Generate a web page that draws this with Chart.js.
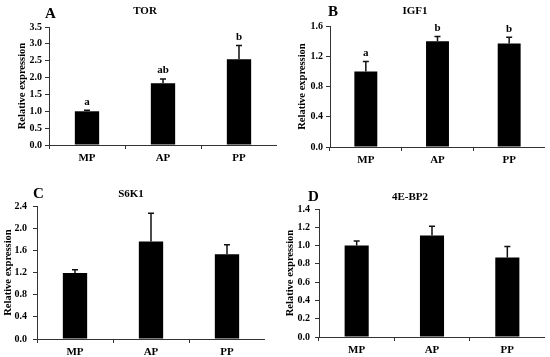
<!DOCTYPE html>
<html>
<head>
<meta charset="utf-8">
<script src="https://cdn.jsdelivr.net/npm/chart.js@4"></script>
<style>
  html, body { margin: 0; padding: 0; background: #fff; }
  #wrap { position: relative; width: 550px; height: 357px; overflow: hidden; }
  canvas { position: absolute; }
</style>
</head>
<body>
<div id="wrap">
  <canvas id="chartA" width="277" height="167" style="left:0;top:0"></canvas>
  <canvas id="chartB" width="265" height="169" style="left:280px;top:0"></canvas>
  <canvas id="chartC" width="265" height="177" style="left:0;top:180px"></canvas>
  <canvas id="chartD" width="265" height="175" style="left:280px;top:180px"></canvas>
</div>
<script>
// data
const categories = ['MP', 'AP', 'PP'];

const torMean = [1.00, 1.83, 2.54];
const torErr  = [0.03, 0.13, 0.41];
const torSig  = ['a', 'ab', 'b'];

const igf1Mean = [1.00, 1.40, 1.37];
const igf1Err  = [0.13, 0.06, 0.08];
const igf1Sig  = ['a', 'b', 'b'];

const s6k1Mean = [1.19, 1.76, 1.53];
const s6k1Err  = [0.06, 0.51, 0.17];

const ebp2Mean = [1.00, 1.11, 0.87];
const ebp2Err  = [0.05, 0.10, 0.12];

const SERIF = "'Liberation Serif', 'Times New Roman', serif";
const AXIS_COLOR = '#333';

// error bars + significance letters
const errorBarPlugin = {
  id: 'errorBars',
  afterDatasetsDraw(chart, args, opts) {
    const { ctx } = chart;
    const y = chart.scales.y;
    const ds = chart.data.datasets[0];
    const meta = chart.getDatasetMeta(0);
    ctx.save();
    ctx.strokeStyle = '#111';
    ctx.lineWidth = 1.5;
    ctx.fillStyle = '#000';
    ctx.font = 'bold 11px ' + SERIF;
    ctx.textAlign = 'center';
    ctx.textBaseline = 'bottom';
    meta.data.forEach((bar, i) => {
      const top = y.getPixelForValue(ds.data[i] + opts.err[i]);
      ctx.beginPath();
      ctx.moveTo(bar.x, bar.y);
      ctx.lineTo(bar.x, top);
      ctx.moveTo(bar.x - 3, top);
      ctx.lineTo(bar.x + 3, top);
      ctx.stroke();
      if (opts.sig) ctx.fillText(opts.sig[i], bar.x, top - 3);
    });
    ctx.restore();
  }
};

// panel letter and gene name
const panelTextPlugin = {
  id: 'panelText',
  afterDraw(chart, args, opts) {
    const { ctx } = chart;
    ctx.save();
    ctx.fillStyle = '#000';
    ctx.textBaseline = 'alphabetic';
    ctx.font = 'bold 15px ' + SERIF;
    ctx.textAlign = 'left';
    ctx.fillText(opts.letter, opts.letterX, opts.letterY);
    ctx.font = 'bold 11px ' + SERIF;
    ctx.textAlign = 'center';
    ctx.fillText(opts.title, opts.titleX, opts.titleY);
    ctx.restore();
  }
};

function makeChart(id, mean, err, sig, cfg) {
  const ctx = document.getElementById(id).getContext('2d');
  return new Chart(ctx, {
    type: 'bar',
    data: {
      labels: categories,
      datasets: [{
        data: mean,
        backgroundColor: '#000',
        borderWidth: 0,
        barPercentage: 0.32,
        categoryPercentage: 1
      }]
    },
    plugins: [errorBarPlugin, panelTextPlugin],
    options: {
      responsive: false,
      animation: false,
      layout: { padding: { top: cfg.padTop, left: 0, right: 0, bottom: 0 } },
      plugins: {
        legend: { display: false },
        tooltip: { enabled: false },
        errorBars: { err: err, sig: sig },
        panelText: cfg.text
      },
      scales: {
        x: {
          offset: true,
          grid: { display: true, drawOnChartArea: false, offset: true, tickLength: 4, color: AXIS_COLOR },
          border: { display: true, color: AXIS_COLOR, width: 1 },
          ticks: { color: '#000', padding: 3, font: { family: SERIF, weight: 'bold', size: 11 } },
          afterFit: s => { s.height = cfg.xHeight; }
        },
        y: {
          min: 0,
          max: cfg.yMax,
          grid: { display: true, drawOnChartArea: false, tickLength: 4, color: AXIS_COLOR },
          border: { display: true, color: AXIS_COLOR, width: 1 },
          ticks: {
            stepSize: cfg.step,
            color: '#000',
            padding: cfg.tickPad,
            font: { family: SERIF, weight: 'bold', size: 10 },
            callback: v => v.toFixed(1)
          },
          title: {
            display: true,
            text: 'Relative expression',
            color: '#000',
            padding: { top: cfg.titlePad, bottom: 0 },
            font: { family: SERIF, weight: 'bold', size: 10.5 }
          },
          afterFit: s => { s.width = cfg.yWidth; }
        }
      }
    }
  });
}

makeChart('chartA', torMean, torErr, torSig, {
  yMax: 3.5, step: 0.5, yWidth: 49, padTop: 27, xHeight: 22, tickPad: 3, titlePad: 15.7,
  text: { letter: 'A', letterX: 45, letterY: 18, title: 'TOR', titleX: 145, titleY: 14 }
});

makeChart('chartB', igf1Mean, igf1Err, igf1Sig, {
  yMax: 1.6, step: 0.4, yWidth: 50, padTop: 26, xHeight: 22, tickPad: 3, titlePad: 15.7,
  text: { letter: 'B', letterX: 48, letterY: 16, title: 'IGF1', titleX: 135, titleY: 13.5 }
});

makeChart('chartC', s6k1Mean, s6k1Err, null, {
  yMax: 2.4, step: 0.4, yWidth: 37, padTop: 26, xHeight: 18, tickPad: 6, titlePad: 2.2,
  text: { letter: 'C', letterX: 33, letterY: 18, title: 'S6K1', titleX: 131, titleY: 17 }
});

makeChart('chartD', ebp2Mean, ebp2Err, null, {
  yMax: 1.4, step: 0.2, yWidth: 39, padTop: 29, xHeight: 18, tickPad: 5, titlePad: 3.7,
  text: { letter: 'D', letterX: 28, letterY: 21, title: '4E-BP2', titleX: 130, titleY: 20 }
});
</script>
</body>
</html>
